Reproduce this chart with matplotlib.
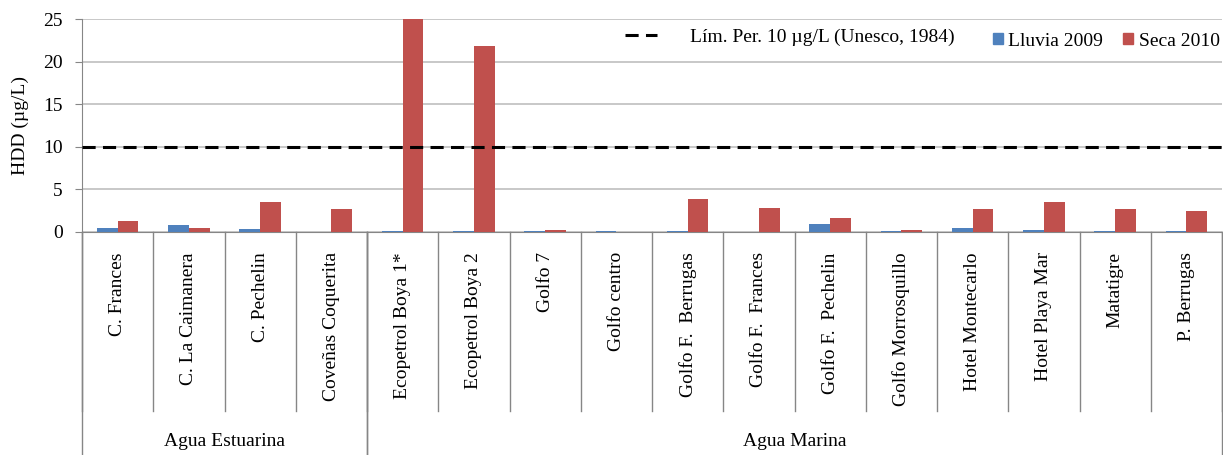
import matplotlib
matplotlib.use("Agg")
import matplotlib.pyplot as plt
import matplotlib.transforms as mtrans
from matplotlib.lines import Line2D
from matplotlib.patches import Patch
import numpy as np

plt.rcParams['font.family'] = ['Liberation Serif', 'DejaVu Serif']

sites = ['C. Frances', 'C. La Caimanera', 'C. Pechelin', 'Coveñas Coquerita',
         'Ecopetrol Boya 1*', 'Ecopetrol Boya 2', 'Golfo 7', 'Golfo centro',
         'Golfo F.  Berrugas', 'Golfo F.  Frances', 'Golfo F.  Pechelin',
         'Golfo Morrosquillo', 'Hotel Montecarlo', 'Hotel Playa Mar',
         'Matatigre', 'P. Berrugas']
lluvia_2009 = [0.43, 0.78, 0.3, 0.0, 0.06, 0.06, 0.06, 0.06,
               0.06, 0.0, 0.98, 0.06, 0.43, 0.27, 0.06, 0.06]
seca_2010 = [1.33, 0.43, 3.55, 2.7, 25.2, 21.8, 0.27, 0.0,
             3.9, 2.85, 1.64, 0.27, 2.7, 3.55, 2.7, 2.5]
groups = ['Agua Estuarina', 'Agua Marina']
group_sizes = [4, 12]
limit = 10

blue = '#4F81BD'
red = '#C0504D'
grid_c = '#BFBFBF'
dash = (0, (4.3, 2.4))

fig = plt.figure(figsize=(12.23, 4.55), dpi=100)
ax = fig.add_axes([82 / 1223, 1 - 232 / 455, 1140 / 1223, 213 / 455])

x = np.arange(len(sites))
w = 0.29
ax.bar(x - w / 2, lluvia_2009, w, color=blue, zorder=3)
ax.bar(x + w / 2, seca_2010, w, color=red, zorder=3)
ax.axhline(limit, color='black', linestyle=dash, linewidth=2.2, zorder=4)

ax.set_xlim(-0.5, len(sites) - 0.5)
ax.set_ylim(0, 25)
ax.set_yticks(range(0, 26, 5))
ax.yaxis.grid(True, color=grid_c, linewidth=1.2)
ax.set_axisbelow(True)
ax.set_xticks([])
for s in ['top', 'right']:
    ax.spines[s].set_visible(False)
for s in ['left', 'bottom']:
    ax.spines[s].set_color('#868686')
ax.tick_params(axis='y', length=5, color='#868686', labelsize=14, pad=9)
ax.set_ylabel('HDD (µg/L)', fontsize=14, labelpad=10)

# category axis: separators, rotated labels, group labels
tr = mtrans.blended_transform_factory(ax.transData, ax.transAxes)
for i in range(len(sites) + 1):
    ax.add_line(Line2D([i - 0.5, i - 0.5], [0, -0.84], transform=tr,
                       color='#868686', linewidth=1, clip_on=False))
for i, s in enumerate(sites):
    ax.text(i, -0.095, s, transform=tr, rotation=90, ha='center', va='top',
            fontsize=14)
start = 0
for g, n in zip(groups, group_sizes):
    for b in (start, start + n):
        ax.add_line(Line2D([b - 0.5, b - 0.5], [0, -1.1], transform=tr,
                           color='#868686', linewidth=1, clip_on=False))
    ax.text(start + n / 2 - 0.5, -0.985, g, transform=tr, ha='center',
            va='center', fontsize=14)
    start += n

# legends
h1 = [Line2D([0], [0], color='black', linestyle=dash, linewidth=2.2)]
fig.legend(h1, ['Lím. Per. 10 µg/L (Unesco, 1984)'], loc='center left',
           bbox_to_anchor=(607 / 1223, 1 - 37 / 455), frameon=False,
           fontsize=14, handlelength=1.65, handletextpad=1.7)
h2 = [Patch(color=blue), Patch(color=red)]
fig.legend(h2, ['Lluvia 2009', 'Seca 2010'], loc='center left', ncol=2,
           bbox_to_anchor=(975 / 1223, 1 - 41 / 455), frameon=False,
           fontsize=14, handlelength=0.52, handleheight=0.52,
           handletextpad=0.3, columnspacing=1.0)

plt.savefig('out.png', dpi=100)
